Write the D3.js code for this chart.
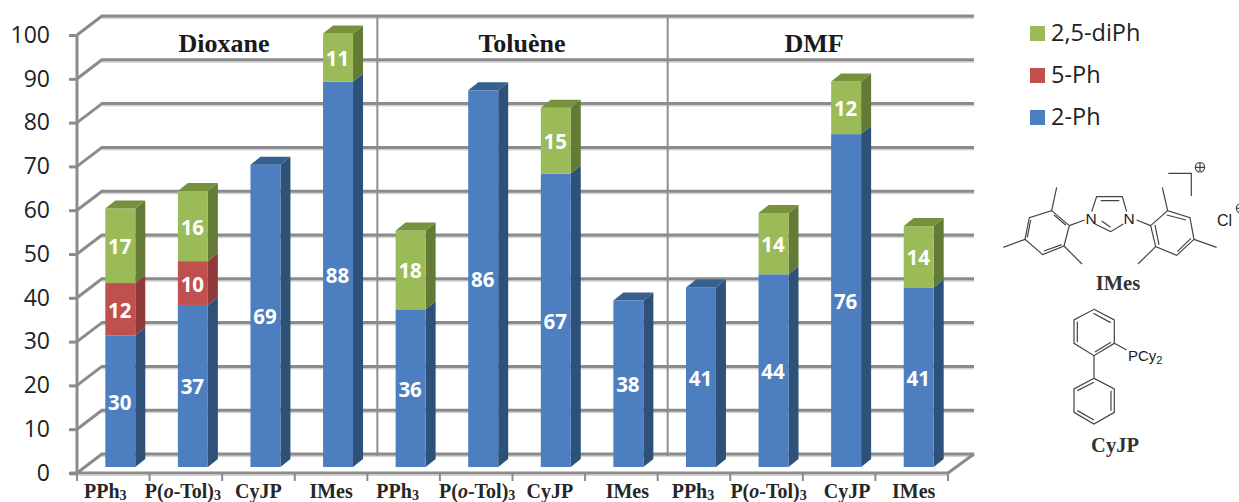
<!DOCTYPE html>
<html><head><meta charset="utf-8">
<script src="https://cdn.jsdelivr.net/npm/d3@7"></script>
<style>html,body{margin:0;padding:0;background:#fff;overflow:hidden}svg{display:block}</style>
</head><body>
<svg id="c" width="1239" height="502"></svg>
<script>
const categories=["PPh3","P(o-Tol)3","CyJP","IMes","PPh3","P(o-Tol)3","CyJP","IMes","PPh3","P(o-Tol)3","CyJP","IMes"];
const solvents=["Dioxane","Toluène","DMF"];
const seriesNames=["2,5-diPh","5-Ph","2-Ph"];
const twoPh=[30,37,69,88,36,86,67,38,41,44,76,41];
const fivePh=[12,10,0,0,0,0,0,0,0,0,0,0];
const diPh=[17,16,0,11,18,0,15,0,0,14,12,14];
const yTicks=[0,10,20,30,40,50,60,70,80,90,100];

const svg=d3.select("#c");
const SANS="'Open Sans',sans-serif", SERIF="'Liberation Serif',serif";
const GRID="#8b8b8b";
const x0=77,x1=948,dx=25,dy=-19,barDx=10,barDy=-8,floorLift=6;
const y=d3.scaleLinear().domain([0,100]).range([473,35]);
const x=d3.scaleBand().domain(d3.range(12)).range([x0+7,x1+7]).paddingInner(0.587).paddingOuter(0.2935);

// walls and grid
const line=(g,a,b,c,d,w=3,col=GRID)=>g.append("line").attr("x1",a).attr("y1",b).attr("x2",c).attr("y2",d).attr("stroke",col).attr("stroke-width",w);
const grid=svg.append("g");
yTicks.forEach(v=>{
  const yy=y(v);
  line(grid,x0+dx,yy+dy+2,x1+dx+1,yy+dy+2,2,"#d4d4d4");
  line(grid,x0,yy,x0+dx,yy+dy);
  line(grid,x0+dx-1,yy+dy,x1+dx+1,yy+dy);
});
line(grid,x1,y(0),x1+dx+1,y(0)+dy);
[4,8].forEach(i=>{
  const sx=x0+i*(x1-x0)/12+10;
  line(grid,sx,y(100)+dy,sx,y(0)+dy+2,2,"#8f8f8f");
});
line(grid,x0,y(100),x0,y(0),3);
line(grid,x0-7,y(0),x1,y(0),3);
line(grid,x0-7,y(0)+2,x1,y(0)+2,1.5,"#c4c4c4");
d3.range(13).forEach(i=>{
  const tx=x0+i*(x1-x0)/12;
  line(grid,tx,y(0),tx,y(0)+8,2);
});

// y axis
const ax=svg.append("g").attr("transform",`translate(${x0-1},0)`)
  .call(d3.axisLeft(y).tickValues(yTicks).tickSize(7).tickPadding(19));
ax.select(".domain").remove();
ax.selectAll(".tick line").attr("stroke",GRID).attr("stroke-width",3);
ax.selectAll("text").attr("font-family",SANS).attr("font-size",23).attr("fill","#222");

// bars
const palette={
  "2-Ph":{f:"#4d7ebf",s:"#2d5179",t:"#36608f"},
  "5-Ph":{f:"#c0504d",s:"#8f3a38",t:"#a04442"},
  "2,5-diPh":{f:"#9bbb59",s:"#647a37",t:"#76923c"}
};
const stack=[["2-Ph",twoPh],["5-Ph",fivePh],["2,5-diPh",diPh]];
const barsG=svg.append("g"), labG=svg.append("g");
const vy=v=>y(v)-floorLift;
categories.forEach((c,i)=>{
  const bx=x(i),w=x.bandwidth();
  let base=0;
  const segs=stack.map(([n,arr])=>{const s={n,a:base,b:base+arr[i],v:arr[i]};base+=arr[i];return s;}).filter(s=>s.v>0);
  segs.forEach((s,k)=>{
    const p=palette[s.n];
    barsG.append("polygon").attr("fill",p.s)
      .attr("points",[[bx+w,vy(s.a)],[bx+w+barDx,vy(s.a)+barDy],[bx+w+barDx,vy(s.b)+barDy],[bx+w,vy(s.b)]].join(" "));
    barsG.append("rect").attr("x",bx).attr("y",vy(s.b)).attr("width",w).attr("height",vy(s.a)-vy(s.b)).attr("fill",p.f);
    if(k===segs.length-1)
      barsG.append("polygon").attr("fill",p.t)
        .attr("points",[[bx,vy(s.b)],[bx+barDx,vy(s.b)+barDy],[bx+w+barDx,vy(s.b)+barDy],[bx+w,vy(s.b)]].join(" "));
    labG.append("text").attr("x",bx+w/2-0.5).attr("y",vy((s.a+s.b)/2)+8.5)
      .attr("text-anchor","middle").attr("font-family",SANS).attr("font-weight",700).attr("font-size",20.5)
      .attr("fill","#fff").text(s.v);
  });
});

// solvent titles
const titleX=[224,522,814];
solvents.forEach((s,i)=>svg.append("text").attr("x",titleX[i]).attr("y",52).attr("text-anchor","middle")
  .attr("font-family",SERIF).attr("font-weight",700).attr("font-size",26).attr("fill","#1a1a1a").text(s));

// category labels
const labelShift=[-15,-10,-7,-7,-13,-6,-6,-1,-8,-5,1,-5];
categories.forEach((c,i)=>{
  const t=svg.append("text").attr("x",x(i)+x.bandwidth()/2+labelShift[i]).attr("y",498).attr("text-anchor","middle")
    .attr("font-family",SERIF).attr("font-weight",700).attr("font-size",20).attr("fill","#262626");
  const m=c.match(/^(P\()(o)(-Tol\))(3)$/);
  const sub=(txt)=>t.append("tspan").attr("font-size",14).attr("dy",2).text(txt);
  if(m){
    t.append("tspan").text(m[1]);
    t.append("tspan").attr("font-style","italic").text(m[2]);
    t.append("tspan").text(m[3]);
    sub(m[4]);
  } else if(c==="PPh3"){
    t.append("tspan").text("PPh");
    sub("3");
  } else t.text(c);
});

// legend
const legG=svg.append("g");
const legY=d3.scalePoint().domain(seriesNames).range([33.5,117.5]);
seriesNames.forEach(n=>{
  legG.append("rect").attr("x",1030).attr("y",legY(n)-7.5).attr("width",15).attr("height",15).attr("fill",palette[n].f);
  legG.append("text").attr("x",1051).attr("y",legY(n)+7.5).attr("font-family",SANS).attr("font-size",23.5).attr("fill","#222").text(n);
});

// structures (decorative chemistry drawings, in zoomed coordinates)
const chem=svg.append("g").attr("transform","translate(980,150) scale(0.3333)")
  .attr("fill","none").attr("stroke","#444").attr("stroke-width",3.6);
const segsChem=[
 "M215 182L268 227L252 288L188 314L135 268L148 203Z","M222 195L258 226M192 303L245 284M142 262L152 210",
 "M215 182L230 112M135 268L70 292M252 288L306 342M268 227L314 210",
 "M335 185L350 140L427 140L440 185M362 152L418 152M345 222L392 245L430 222M365 213L392 232",
 "M470 210L512 227M512 227L563 182L630 203L642 268L590 316L527 290Z","M560 195L618 210M633 265L592 305M525 225L537 285",
 "M563 182L547 112M642 268L710 292M527 290L474 342",
 "M565 70L634 70L634 138",
 "M660 40V64M648 52H672","M771 175H795",
 "M342 478L403 510L403 580L342 617L282 580L282 510Z","M340 490L392 518M393 577L345 606M292 515L292 577",
 "M342 617L342 685L403 717L403 787L342 822L282 787L282 717L342 685","M342 697L292 722M393 722L393 782M342 810L292 782",
 "M403 580L440 600"
];
segsChem.forEach(d=>chem.append("path").attr("d",d));
chem.append("circle").attr("cx",660).attr("cy",52).attr("r",14);
chem.append("circle").attr("cx",783).attr("cy",175).attr("r",14);
const tx=(s,px,py,fs=15,anchor="start")=>svg.append("text").attr("x",px).attr("y",py).attr("text-anchor",anchor)
  .attr("font-family","'Liberation Sans',sans-serif").attr("font-size",fs).attr("fill","#222").text(s);
tx("N",1091,224,15.5,"middle");tx("N",1129,224,15.5,"middle");
tx("Cl",1217,226,16);
const pc=tx("PCy",1128,361,15);
pc.append("tspan").attr("font-size",11).attr("dy",3).text("2");
[["IMes",1118,290],["CyJP",1115,452]].forEach(([s,px,py])=>svg.append("text").attr("x",px).attr("y",py).attr("text-anchor","middle")
  .attr("font-family",SERIF).attr("font-weight",700).attr("font-size",20.5).attr("fill","#333").text(s));
</script>
</body></html>
